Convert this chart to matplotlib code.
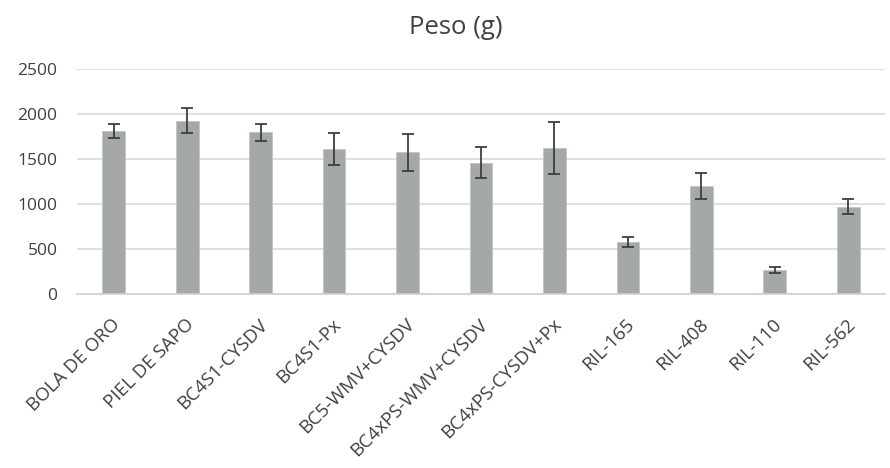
import matplotlib
matplotlib.use("Agg")
import matplotlib.pyplot as plt
import matplotlib.transforms as mtransforms
import numpy as np

categories = ["BOLA DE ORO", "PIEL DE SAPO", "BC4S1-CYSDV", "BC4S1-Px", "BC5-WMV+CYSDV",
              "BC4xPS-WMV+CYSDV", "BC4xPS-CYSDV+Px", "RIL-165", "RIL-408", "RIL-110", "RIL-562"]
peso = [1813, 1928, 1798, 1609, 1575, 1462, 1624, 580, 1201, 265, 970]
error = [78, 141, 96, 178, 203, 176, 293, 54, 145, 35, 84]
yticks = [0, 500, 1000, 1500, 2000, 2500]

plt.rcParams['font.family'] = ['Open Sans', 'DejaVu Sans']
text_color = '#404040'

fig = plt.figure(figsize=(8.9, 4.68), dpi=100)
ax = fig.add_axes([77/890, 1-294/468, (885-77)/890, (294-69.3)/468])

x = np.arange(len(categories))
ax.bar(x, peso, width=0.31, color='#a5a8a8', edgecolor='#c3c5c5', linewidth=0.6, zorder=2)
ax.errorbar(x, peso, yerr=error, fmt='none', ecolor='#3a3f3f', elinewidth=1.3,
            capsize=4.2, capthick=1.3, zorder=3)

ax.set_xlim(-0.5, len(categories) - 0.5)
ax.set_ylim(0, 2500)
ax.set_yticks(yticks)
ax.set_yticklabels([str(v) for v in yticks], fontsize=12.5, color=text_color)
ax.yaxis.grid(True, color='#d9d9d9', linewidth=1.2, zorder=0)
ax.set_axisbelow(True)
for s in ['top', 'right', 'left']:
    ax.spines[s].set_visible(False)
ax.spines['bottom'].set_color('#d0d0d0')
ax.spines['bottom'].set_linewidth(1.2)
ax.tick_params(axis='y', length=0, pad=14)
ax.tick_params(axis='x', length=0, pad=20)
ax.set_xticks(x)
ax.set_xticklabels(categories, rotation=45, ha='right', va='center', rotation_mode='anchor',
                   fontsize=13.5, color=text_color)
offset = mtransforms.ScaledTranslation(4/100, 0, fig.dpi_scale_trans)
for lbl in ax.get_xticklabels():
    lbl.set_transform(lbl.get_transform() + offset)

fig.text(456/890, 1-28/468, "Peso (g)", ha='center', va='center', fontsize=18.5, color=text_color)

fig.savefig("out.png", dpi=100)
